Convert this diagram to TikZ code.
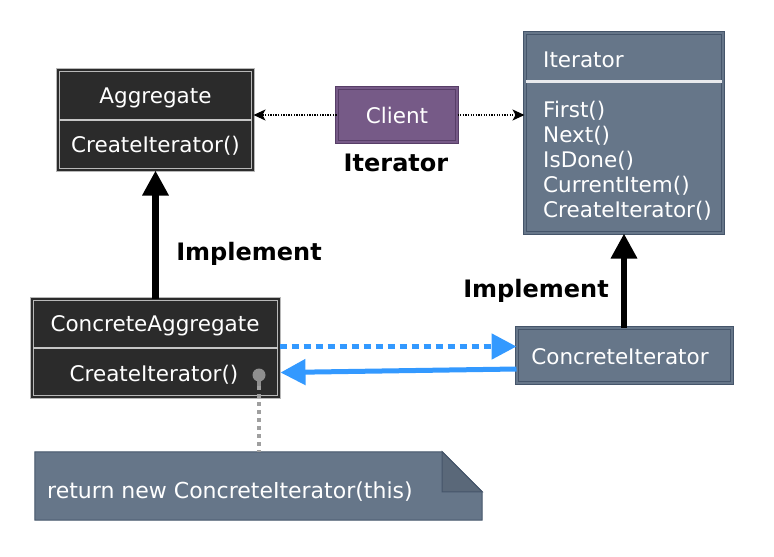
\documentclass[tikz,border=0pt]{standalone}
\usepackage{fontspec}
\setmainfont{DejaVu Sans}
\usetikzlibrary{arrows.meta,calc}
\definecolor{darkbox}{HTML}{2B2B2B}
\definecolor{darkedge}{HTML}{B8B8B8}
\definecolor{slate}{HTML}{667689}
\definecolor{slateedge}{HTML}{45556A}
\definecolor{purp}{HTML}{765A87}
\definecolor{purpedge}{HTML}{573E67}
\definecolor{arrblue}{HTML}{3399FF}
\definecolor{lolgray}{HTML}{8E8E8E}
\tikzset{
  reg/.style={font=\fontsize{21.5}{25}\selectfont},
  boldlbl/.style={font=\fontsize{24}{28}\selectfont\bfseries, text=black, inner sep=0pt, text height=17.5pt, text depth=0pt},
  txt/.style={reg, text=white, inner sep=0pt, text height=15.7pt, text depth=0pt},
  darkcls/.style={draw=darkedge, fill=darkbox, line width=1pt, double=darkbox, double distance=1.6pt},
  slatecls/.style={draw=slateedge, fill=slate, line width=1pt, double=slate, double distance=1.6pt},
  purpcls/.style={draw=purpedge, fill=purp, line width=1pt, double=purp, double distance=1.6pt},
  lightdiv/.style={draw=darkedge!80!white, line width=2pt},
  whitediv/.style={draw=white!85!slate, line width=2.5pt},
  dotarr/.style={draw=black, line width=1.3pt, dash pattern=on 1.3pt off 1.3pt, -{Stealth[length=12pt,width=11pt,inset=3pt]}},
  implarr/.style={draw=black, line width=6.5pt, -{Triangle[length=25pt,width=25pt]}},
  bluedot/.style={draw=arrblue, line width=5pt, dash pattern=on 7pt off 5pt, -{Triangle[length=25pt,width=25pt]}},
  bluesolid/.style={draw=arrblue, line width=5pt, -{Triangle[length=25pt,width=25pt]}},
  notebody/.style={draw=slateedge, fill=slate, line width=1pt},
  notefold/.style={draw=slateedge, fill=slate!88!black, line width=1pt, line join=miter},
  loldot/.style={draw=lolgray!85!white, line width=4pt, dash pattern=on 4pt off 4pt},
}
\begin{document}
\begin{tikzpicture}[x=1pt,y=-1pt]
\useasboundingbox[fill=white] (0,0) rectangle (774,557);

% Aggregate
\node[darkcls, minimum width=195pt, minimum height=100pt, inner sep=0pt] (agg) at (155.5,120) {};
\draw[lightdiv] ($(agg.west)+(1.5,0)$) -- ($(agg.east)+(-1.5,0)$);
\node[txt] (aggname) at (155.5,96) {Aggregate};
\node[txt] (aggop) at (155.5,145) {CreateIterator()};

% Client
\node[purpcls, minimum width=120pt, minimum height=54pt, inner sep=0pt] (cl) at (397,115) {};
\node[txt] (clname) at (397,116) {Client};
\node[boldlbl] (itlbl) at (396,163) {Iterator};

% Iterator
\node[slatecls, minimum width=198pt, minimum height=200pt, inner sep=0pt] (it) at (624,133) {};
\draw[whitediv] ($(it.north west)+(1.5,49)$) -- ($(it.north east)+(-1.5,49)$);
\node[txt, anchor=west] (itname) at (543,60) {Iterator};
\node[txt, anchor=west] (m1) at (543,110) {First()};
\node[txt, anchor=west] (m2) at (543,135) {Next()};
\node[txt, anchor=west] (m3) at (543,160) {IsDone()};
\node[txt, anchor=west] (m4) at (543,185) {CurrentItem()};
\node[txt, anchor=west] (m5) at (543,210) {CreateIterator()};

% ConcreteAggregate
\node[darkcls, minimum width=247pt, minimum height=98pt, inner sep=0pt] (ca) at (155.5,348) {};
\draw[lightdiv] ($(ca.west)+(1.5,0)$) -- ($(ca.east)+(-1.5,0)$);
\node[txt] (caname) at (155,324) {ConcreteAggregate};
\node[txt] (caop) at (154,374) {CreateIterator()};

% ConcreteIterator
\node[slatecls, minimum width=215pt, minimum height=55pt, inner sep=0pt] (ci) at (624.5,355.5) {};
\node[txt] (ciname) at (620,357) {ConcreteIterator};

% labels
\node[boldlbl] (impl1) at (249,252) {Implement};
\node[boldlbl] (impl2) at (536,289) {Implement};

% Note
\node[minimum width=447pt, minimum height=68pt, inner sep=0pt] (note) at (258.5,486) {};
\draw[notebody] (note.south west) -- (note.north west) -- ($(note.north east)+(-40,0)$) -- ($(note.north east)+(0,40)$) -- (note.south east) -- cycle;
\draw[notefold] ($(note.north east)+(-40,0)$) -- ($(note.north east)+(-40,40)$) -- ($(note.north east)+(0,40)$) -- cycle;
\node[txt, anchor=west, font=\fontsize{22}{26}\selectfont, text height=16pt] (notetext) at (47,490) {return new ConcreteIterator(this)};

% lollipop
\node[circle, fill=lolgray, minimum size=13pt, inner sep=0pt] (lol) at (259,375) {};
\draw[draw=lolgray, line width=3.5pt] (lol.center) -- ($(lol.center)+(0,11)$) coordinate (lolstem);
\draw[loldot] (lolstem) -- (lolstem |- note.north);

% connectors
\draw[dotarr] (cl.west) -- (agg.east |- cl.west);
\draw[dotarr] (cl.east) -- (it.west |- cl.east);
\draw[implarr] (ca.north) -- (agg.south);
\draw[implarr] (ci.north -| it.south) -- (it.south);
\coordinate (bd1) at ($(ca.east)+(0,-1.5)$);
\draw[bluedot] (bd1) -- (ci.west |- bd1);
\coordinate (bs1) at ($(ci.west)+(0,13.5)$);
\coordinate (bs2) at ($(ca.east)+(1,24.5)$);
\draw[bluesolid] (bs1) -- (bs2);
\end{tikzpicture}
\end{document}
